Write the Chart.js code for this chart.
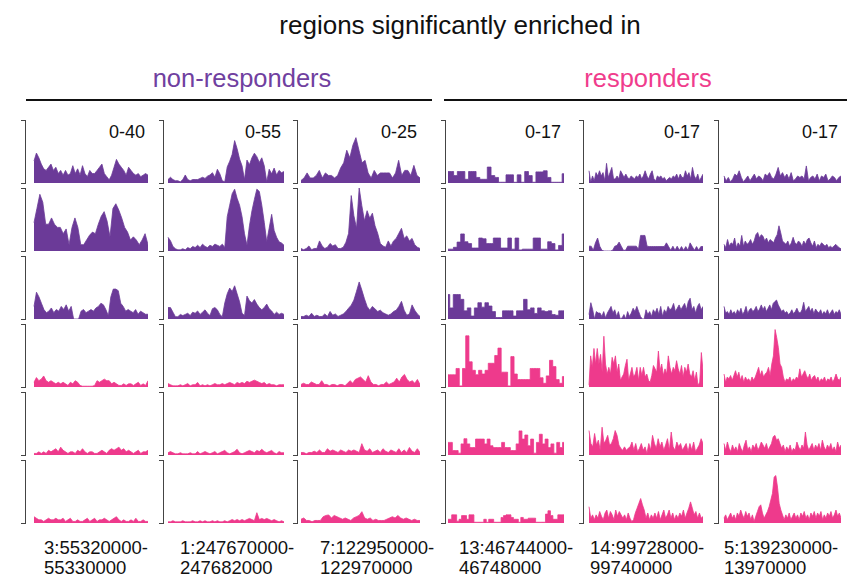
<!DOCTYPE html>
<html>
<head>
<meta charset="utf-8">
<script src="https://cdn.jsdelivr.net/npm/chart.js@4"></script>
<style>
  html, body { margin: 0; padding: 0; background: #fff; }
  body { width: 855px; height: 580px; position: relative; overflow: hidden;
         font-family: "Liberation Sans", Arial, sans-serif; color: #111; }
  .t { position: absolute; white-space: nowrap; }
  .cell { position: absolute; }
  .rule { position: absolute; height: 2px; background: #111; }
</style>
</head>
<body>
<script>
// ---------------- DATA ----------------
const titleText = "regions significantly enriched in";
const groupLabels = ["non-responders", "responders"];
const regionLine1 = ["3:55320000-", "1:247670000-", "7:122950000-", "13:46744000-", "14:99728000-", "5:139230000-"];
const regionLine2 = ["55330000", "247682000", "122970000", "46748000", "99740000", "13970000"];
const rangeMax = [40, 55, 25, 17, 17, 17];
const rangeLabels = ["0-40", "0-55", "0-25", "0-17", "0-17", "0-17"];

// column 1 (3:55320000-55330000)
const c1r1 = [14,19,16,12,9,8,10,12,8,10,6,8,5,8,5,6,11,6,9,5,11,6,4,8,6,6,8,10,12,6,4,2,5,10,15,12,10,8,5,10,8,6,5,6,4,5,6,5];
const c1r2 = [18,27,36,31,17,17,21,17,15,15,11,14,4,15,21,15,4,4,7,10,12,11,17,22,25,19,9,27,30,26,21,15,12,7,9,7,4,7,11,4];
const c1r3 = [8,17,14,10,6,4,5,7,4,6,5,8,6,9,5,8,0,0,0,5,6,4,5,6,5,7,8,10,9,6,2,14,19,19,18,10,8,5,6,5,4,6,3,5,4,3,3];
const c1r4 = [3,6,4,5,7,4,3,4,3,2,3,2,3,2,1,3,2,4,3,1,0.5,0.5,0.5,0.5,0.5,1,4,3,4,5,4,4,2,3,2,1,1,2,1,2,2,1,2,3,1,2,1,4];
const c1r5 = [1,1,2,1,2,1,3,2,3,4,2,5,3,2,1,2,2,1,3,2,4,2,1,2,2,1,1,2,3,2,1,3,4,3,4,5,3,4,2,3,2,1,2,3,1,2,2,3];
const c1r6 = [4,3,2,2,1,2,3,2,2,3,2,2,3,1,2,3,1,1,2,1,1,2,3,1,2,3,1,2,2,3,2,1,2,3,4,2,1,2,1,1,2,1,3,1,1,2,1,1];

// column 2 (1:247670000-247682000)
const c2r1 = [3,5,3,2,2,1,3,7,3,2,3,3,3,4,5,4,6,7,9,5,12,8,2,1,14,19,25,37,30,21,15,3,20,16,22,26,23,18,22,15,1,12,8,13,7,11,9,10];
const c2r2 = [12,9,4,2,1,1,2,1,3,2,4,3,5,3,6,4,3,5,4,6,5,4,6,3,30,40,50,54,46,40,30,15,5,22,35,45,54,52,40,25,8,20,32,18,12,8,7,5];
const c2r3 = [10,10,6,2,2,4,3,4,5,3,6,5,7,4,6,8,5,3,9,10,8,4,2,14,22,27,24,29,22,15,5,3,20,16,14,17,13,10,8,10,13,9,7,4,6,4,5,4];
const c2r4 = [3,2,1,1,1,2,1,2,3,1,2,2,4,1,2,1,2,1,2,3,2,2,3,2,3,4,3,2,4,3,4,3,5,4,5,6,5,4,3,4,2,3,2,2,1,2,2,2];
const c2r5 = [2,3,2,1,1,2,1,1,1,2,1,1,3,1,2,3,2,1,2,3,1,2,3,4,2,1,2,3,5,2,1,2,3,4,3,2,4,3,5,3,2,3,4,2,1,3,2,2];
const c2r6 = [1,1,2,1,1,1,2,1,1,1,2,1,1,2,1,2,1,1,2,1,2,1,1,2,1,2,3,2,3,2,3,2,3,4,3,2,9,3,4,3,4,3,2,3,2,1,2,1];

// column 3 (7:122950000-122970000)
const c3r1 = [1,2,4,2,2,3,5,2,4,3,3,2,3,6,8,13,10,15,18,13,8,9,4,2,5,3,4,4,4,4,2,4,9,3,5,5,3,7,3,2];
const c3r2 = [1,0.5,1,2,0.5,1,1,4,2,1,1.5,3,2,2.5,1,1,1.5,3.5,7,22,14,9,25,18,12,16,13,15,10,7,3,2,1.5,4,2,4,5,7,9,5,6,4,5,2.5,1.5,1];
const c3r3 = [1,1,1.5,1,2.3,1,1.5,1,1,2,1,3,1.5,2,1,1.5,2,3,4.3,5.5,7.5,11,14.7,11.5,8,5,3.5,5,4,3,3.5,2.5,2,1.5,2,3,3.5,5,7,3.5,1.5,2,5.6,3.5,2,1];
const c3r4 = [1,1.5,1,1,2,1.5,1,1,2.5,1,1,0.5,1,1,0.5,1,1,0.5,1.5,2.5,1.5,3,3.5,4,3,2,4.5,2,1,1,0.5,1,1,2,1,1.5,2,3.5,2,4,5,3,2,2.5,1.5,3,1];
const c3r5 = [1,1,0.5,1,1,1.5,1,2,1,1,2.5,1.5,2,1.5,1,2,1.5,1,2,1.5,2,1.5,1,4.5,2,1.5,2.5,1,1.5,2,1,2.5,1.5,1,2,1.5,1,2.5,1,2,1,3,1.5,1,2.5,1];
const c3r6 = [1.5,2,1,1,0.5,1,1,1,2.5,3,3.2,2,3,2.5,2,1.5,2,1.5,1,2,2.5,3,4.5,2,1.5,2,1,1.5,1,1,1,1.5,2,2.5,2,3,2,1.5,2,1.5,1,1.5,1,1];

// column 4 (13:46744000-46748000)
const c4r1 = [3.1,3.1,2,3.1,3.1,1,3.1,3.1,1.5,1,1,4.3,2,1.5,0.2,0.2,2.2,2.2,0.2,2.2,0.2,3.1,2,0.2,3,3,3.3,1.5,0.2,0.2,0.2,2.5];
const c4r2 = [0.5,0.5,1,2.4,4.6,2.5,2,0.8,0.8,3.5,3.3,2,2,3.5,3.5,0.8,0.8,3.5,0.5,3.5,0.3,0.5,0.5,0.5,3.5,3.5,0.5,0.5,2.5,2,0.3,1.5,4.6];
const c4r3 = [6.6,3,6.6,6.6,5.3,2.2,3,0.8,3,4.4,3.2,4.4,3.5,2,0.4,0.4,2.2,2.2,2.2,0.8,2.2,2.2,5.3,2.5,3,1.5,3,2.2,2,2.2,1.2,1,2.2,2.2];
const c4r4 = [3.3,3.3,3.3,5,0.3,5,13.8,6.8,4.5,3.3,4.5,3.5,4.5,6.4,6.4,8.5,10.5,4,4,0.3,8.2,3.5,2,2,2,2,5,5,5,2.5,1,3,7.2,5.5,2,1,2.8];
const c4r5 = [3.4,3.4,1.2,1.2,0.5,3,4.4,3,2,2,4.3,4.3,4.3,3,4.3,2.5,2,2,2,3.4,2,2,1.2,1.2,3,6.5,4.3,5.4,2.5,4.3,0.5,3.4,5.6,3,4.3,2,3,0.5,3.4,2,3.4];
const c4r6 = [1,1,2.2,2.2,0.5,1,2,2,1,2.2,2.2,0.2,0.2,0.2,0.2,1,0.2,1,1,0.2,0.2,0.2,1.5,2,2.2,2.2,1.5,1,1,0.2,1.5,1,1,1.3,1.3,1.3,0.2,0.2,0.2,0.2,2.4,3.3,2,1,1,2.2,2.2,2.2];

// column 5 (14:99728000-99740000)
const c5r1 = [3.3,0.2,1.9,0.6,2.8,1.9,3.3,1.9,2.8,0.6,5.3,1.5,2.8,4.2,1.1,1.1,1.9,1.1,3.3,2.4,1.5,2.4,1.5,1.1,1.9,1.5,1.1,1.9,1.5,2.4,1.1,1.9,3.3,1.9,1.1,2.4,3.3,1.1,0.6,1.9,1.5,1.9,1.1,1.5,0.6,1.1,1.5,1.1,1.9,1.5,2.4,1.1,2.4,1.5,1.5,3.3,1.9,2.8,1.1,4.2,1.9,1.1,2.4,0.6,1.5,2.4];
const c5r2 = [1.3,1.3,0.2,2.2,3.5,1.3,0.2,0,0,0,0,0.2,1.3,1.5,2.4,1.3,0.2,0.2,1.3,1.3,1.3,1.3,1.3,0.5,4.2,4.2,4.2,1.3,1.2,1.2,1.2,1.2,1.2,1.2,1.2,1.2,2.2,1.2,0.2,1.3,0.2,1.3,0.2,1.2,0.2,1.2,0.2,2.2,1.2,0.2,1.2,0.2,1.2,1.2];
const c5r3 = [1.2,4.4,2.5,0,2,1.6,1.6,0.7,2,0.3,1.6,2.5,3.4,1.6,2.5,0.7,2,0,0.3,1.2,0,2,0.7,1.6,2.9,2,3.4,2,0.7,0,0,2.5,1.2,2,0.7,2.5,1.6,2.9,1.2,3.4,0.7,2.5,1.6,3.4,2.5,2.9,4.2,2,2.9,3.8,2.5,3.4,4.2,2.5,4.7,5.6,2.5,3.4,1.6,3.4,4.2,2.5,3.4];
const c5r4 = [0.5,8.4,5.3,10.4,6.2,10.4,6.2,8.8,4,13.7,6.2,3.5,5.3,3.5,8,6.2,8.4,4,6.2,1.8,2.7,3.5,5.8,7.5,1.8,3.5,5.3,2.7,3.5,5.3,1.8,5.3,3.1,5.3,2.7,3.5,1.8,1.3,3.1,5.8,4.9,4,9.7,4.4,6.2,3.1,4.9,3.5,8.4,5.3,3.5,5.3,4.4,7.1,4.9,3.5,5.8,2.7,5.3,4,6.2,3.5,2.7,4.4,1.8,4,0.4,1.3,9.3,4.4];
const c5r5 = [6.6,3.1,2.2,5.8,2.7,4,1.3,7.5,3.1,4,5.3,2.7,3.1,4.4,6.6,5.3,2.7,1.8,1.3,2.2,1.3,1.8,2.2,3.5,1.3,3.1,0.9,1.8,3.1,1.3,2.2,0.4,3.1,1.3,5.3,3.1,1.8,4.4,2.2,3.5,1.3,2.7,4.4,1.3,6.2,2.2,1.3,3.5,2.2,3.1,1.3,2.2,3.1,0.9,3.1,1.3,3.5,0.9,1.8,2.7,4.4,3.1];
const c5r6 = [4.4,1.3,2.2,0.9,2.2,1.3,3.1,1.8,0.9,2.7,3.5,1.3,3.1,2.2,0.9,3.5,1.8,3.1,2.2,1.3,2.2,0.9,2.7,1.3,0.4,0.9,2.7,4,5.3,6.6,4.9,3.5,1.3,2.7,0.9,2.2,1.3,2.7,1.3,3.1,0.9,2.2,3.5,1.3,2.2,3.5,1.3,2.7,0.9,2.2,1.3,2.7,1.8,3.5,1.3,2.7,4,5.7,4,2.2,3.1,1.3,2.7,1.3,1.8];

// column 6 (5:139230000-13970000)
const c6r1 = [1.9,0.6,1.5,0.3,1.1,2.4,1.9,3.3,1.5,0.3,1.1,1.9,0.6,1.5,2.4,1.1,1.9,1.5,0.6,2.4,1.9,2.8,1.5,1.1,2.4,4.2,1.9,2.8,1.5,2.4,1.1,2.8,0.6,1.1,1.9,1.5,1.9,1.1,4.6,0.6,1.5,1.9,1.1,2.4,0.6,1.9,1.5,2.4,0.6,1.1,1.9,1.5,0.6,1.5,1.9];
const c6r2 = [1.8,0.9,3.1,1.3,2.2,1.8,3.5,0.9,2.2,1.3,4.2,1.3,2.7,1.8,2.2,3.1,1.8,2.7,4.4,5,3.5,4.4,4,2.7,3.5,2.2,3.1,2.7,2.2,3.5,4.4,6.8,4.9,2.7,2.2,1.8,2.7,1.3,2.2,3.7,2.2,1.8,2.7,2.2,1.3,2.7,1.8,3.1,3.5,2.2,1.3,2.7,0.9,1.8,1.3,2.2,1.8,1.3,1.8,0.9,1.3,0.9,1.3,1.8,1.3,0.9,0.6];
const c6r3 = [3.4,1.6,2,1.2,2.5,1.4,2,1.2,2.5,1.6,2.9,1.2,2,3.4,1.4,2.5,2.9,2,2.5,3.4,2,2.7,3.8,2.5,3.4,2,2.9,3.8,2.5,4.2,4.7,5.1,3.8,2.9,2,2.5,1.6,2,1.2,1.6,2.5,1.4,2,2.9,1.8,1.6,2.5,4.5,2,2.7,3.4,2,2.9,1.4,2.7,2,1.6,2.5,1.2,2,1.4,2.5,1.2,1.8,2.5,1.2,2,1.6,2.5,1.2];
const c6r4 = [3.5,1.3,2.7,2.2,3.1,1.8,3.1,4.4,2.7,4,1.8,3.1,1.3,2.7,1.8,2.2,1.3,2.7,1.8,2.7,4,5.3,3.1,4.4,2.7,3.5,4,5.3,3.1,6.2,8.4,15.5,13.3,10.6,6.2,5.3,2.7,1.3,2.2,1.8,2.7,1.3,2.2,1.8,2.7,2.2,4.9,2.7,3.5,4.4,3.1,2.2,3.5,1.8,2.7,3.1,1.8,2.7,1.3,2.2,1.8,2.7,1.3,2.2,1.8,2.7,1.3,2.2,3.5,2.2,1.8,2.7];
const c6r5 = [3.1,1.3,3.5,1.8,0.9,2.7,1.3,2.2,0.9,3.1,1.8,0.9,2.7,4,1.3,2.2,0.9,2.7,1.8,3.1,1.3,2.2,3.5,2.7,1.8,3.1,1.3,2.2,3.1,4.9,5.3,4,4.4,3.1,1.8,2.7,0.9,2.2,1.3,2.7,0.9,1.8,1.3,3.5,2.2,1.3,2.7,1.8,6.2,2.7,1.3,2.2,3.1,1.3,2.7,1.8,3.1,1.3,4,2.2,1.3,2.7,1.8,3.1,1.3,2.2,0.9,3.5,1.8,2.7];
const c6r6 = [1.3,2.2,0.9,1.8,2.7,1.3,2.2,0.9,2.7,1.8,3.5,2.2,1.3,3.1,1.8,2.7,0.9,2.2,0.4,1.8,3.1,4.4,4.9,2.7,1.3,2.2,3.1,4.4,6.2,8,12.4,12.8,9.7,5.3,3.5,2.2,0.9,2.2,1.3,2.7,0.9,1.8,2.7,1.3,2.2,0.9,2.7,1.8,3.1,1.3,2.2,0.9,2.7,1.8,3.1,1.3,2.7,1.8,3.1,0.9,2.2,1.3,2.7,1.8,3.1,1.3,2.2,3.5,1.8,2.7,1.3];

const tracks = [
  [c1r1, c1r2, c1r3, c1r4, c1r5, c1r6],
  [c2r1, c2r2, c2r3, c2r4, c2r5, c2r6],
  [c3r1, c3r2, c3r3, c3r4, c3r5, c3r6],
  [c4r1, c4r2, c4r3, c4r4, c4r5, c4r6],
  [c5r1, c5r2, c5r3, c5r4, c5r5, c5r6],
  [c6r1, c6r2, c6r3, c6r4, c6r5, c6r6]
];

// ---------------- LAYOUT / STYLE ----------------
const PURPLE = "#6b3a98";
const PINK = "#ee3a8c";
const rowColors = [PURPLE, PURPLE, PURPLE, PINK, PINK, PINK];
const colBracketX = [25, 163, 297, 445, 583, 718];
const colDataLeft = [34, 168, 301, 448, 589, 724];
const colDataRight = [148, 284, 420, 564, 703, 841];
const colStepped = [false, false, false, true, false, false];
const rowBottom = [183, 251, 319, 387, 455, 523];
const rowH = 63;
const AXW = 6;

function addText(txt, x, y, size, color, align) {
  const d = document.createElement("div");
  d.className = "t";
  d.textContent = txt;
  d.style.fontSize = size + "px";
  d.style.lineHeight = Math.round(size * 1.2) + "px";
  d.style.color = color || "#111";
  d.style.top = (y - Math.round(size * 1.2) / 2) + "px";
  if (align === "center") { d.style.left = x + "px"; d.style.transform = "translateX(-50%)"; }
  else if (align === "right") { d.style.right = (855 - x) + "px"; }
  else { d.style.left = x + "px"; }
  document.body.appendChild(d);
}

addText(titleText, 460, 25, 26, "#111", "center");
addText(groupLabels[0], 242, 78, 25.5, "#7040a0", "center");
addText(groupLabels[1], 648, 78, 25.5, "#f03c8c", "center");
[[26, 432], [444, 847]].forEach(([a, b]) => {
  const r = document.createElement("div");
  r.className = "rule";
  r.style.left = a + "px"; r.style.width = (b - a) + "px"; r.style.top = "99px";
  document.body.appendChild(r);
});

const labelX = [44, 180, 320, 459, 590, 724];
for (let c = 0; c < 6; c++) {
  addText(rangeLabels[c], colDataRight[c] - 3, 132, 18, "#111", "right");
  addText(regionLine1[c], labelX[c], 548, 18.5, "#111", "left");
  addText(regionLine2[c], labelX[c], 568, 18.5, "#111", "left");
}

Chart.defaults.animation = false;

for (let c = 0; c < 6; c++) {
  for (let r = 0; r < 6; r++) {
    const vals = tracks[c][r];
    const N = vals.length;
    const areaW = colDataRight[c] - colBracketX[c];
    const gap = colDataLeft[c] - colBracketX[c];
    const G = gap * (N - 1) / (areaW - gap);
    const W = areaW + AXW + 1;
    const H = rowH + 4;
    const div = document.createElement("div");
    div.className = "cell";
    div.style.left = (colBracketX[c] - AXW) + "px";
    div.style.top = (rowBottom[r] - rowH - 2) + "px";
    const cv = document.createElement("canvas");
    cv.width = W; cv.height = H;
    cv.style.width = W + "px"; cv.style.height = H + "px";
    div.appendChild(cv);
    document.body.appendChild(div);
    const col = rowColors[r];
    const maxV = rangeMax[c];
    new Chart(cv, {
      type: "line",
      data: {
        datasets: [{
          data: vals.map((v, i) => ({ x: i, y: v })),
          borderColor: col,
          backgroundColor: col,
          borderWidth: 0.8,
          fill: "origin",
          pointRadius: 0,
          tension: 0,
          stepped: colStepped[c] ? "middle" : false
        }]
      },
      options: {
        responsive: false,
        devicePixelRatio: 1,
        animation: false,
        layout: { padding: { top: 2, bottom: 2, left: 0, right: 1 } },
        plugins: { legend: { display: false }, tooltip: { enabled: false } },
        scales: {
          x: { type: "linear", display: false, min: -G, max: N - 1 },
          y: {
            min: 0, max: maxV,
            afterBuildTicks: (s) => { s.ticks = [{ value: 0 }, { value: maxV }]; },
            afterFit: (s) => { s.width = AXW; },
            ticks: { display: false },
            grid: { drawOnChartArea: false, drawTicks: true, tickLength: 4, color: "#444", lineWidth: 1 },
            border: { display: true, color: "#444", width: 1 }
          }
        }
      }
    });
  }
}
</script>
</body>
</html>
